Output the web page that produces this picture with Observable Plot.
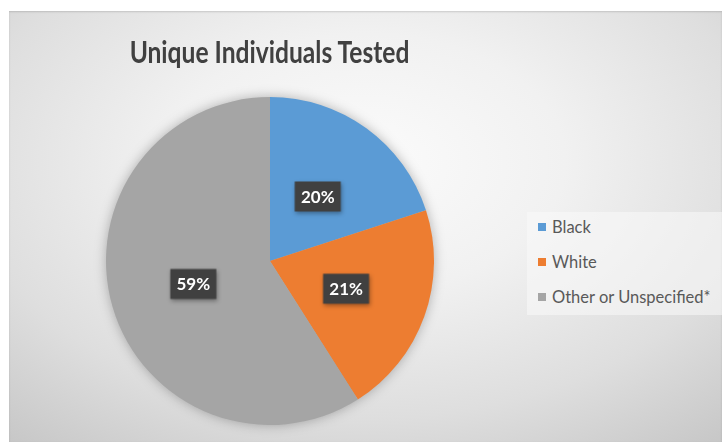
<!DOCTYPE html>
<html>
<head>
<meta charset="utf-8">
<script src="https://cdn.jsdelivr.net/npm/d3@7"></script>
<script src="https://cdn.jsdelivr.net/npm/@observablehq/plot@0.6"></script>
<style>
  html, body { margin: 0; padding: 0; background: #ffffff; }
  #wrap { position: relative; width: 722px; height: 442px; overflow: hidden; background: #ffffff; }
  #panel {
    position: absolute; left: 9px; top: 11px; width: 713px; height: 431px;
    background: radial-gradient(ellipse 80% 85% at 50% 35%, #fbfbfb 0%, #f1f1f1 35%, #dedede 70%, #c6c6c6 100%);
    box-shadow: inset 0 1px 2px rgba(0,0,0,0.15);
  }
  #title {
    position: absolute; left: 0; top: 22px; width: 521px; text-align: center;
    font-family: Lato, "Open Sans", sans-serif; font-weight: bold; font-size: 30px;
    line-height: 36px; color: #404040; white-space: nowrap;
    transform: scaleX(0.82); transform-origin: 50% 50%;
  }
  #chart { position: absolute; left: 0; top: 0; }
  #chart svg { background: transparent !important; overflow: visible; }
  #chart g[aria-label="dot"] { filter: drop-shadow(1px 2px 2px rgba(0,0,0,0.35)); }
  #pie { filter: drop-shadow(0px 0px 6px rgba(0,0,0,0.28)); }
  #legend {
    position: absolute; left: 518px; top: 201px; width: 195px; height: 103px;
    background: rgba(250,250,250,0.55); box-sizing: border-box;
    font-family: Lato, "Open Sans", sans-serif; font-size: 16.5px; color: #595959;
  }
  .items { margin-top: -3px; }
  .item { height: 35px; display: flex; align-items: center; padding-left: 11px; }
  .sw { width: 8px; height: 8px; margin-right: 6px; }
</style>
</head>
<body>
<div id="wrap">
  <div id="panel">
    <div id="title">Unique Individuals Tested</div>
    <div id="chart"></div>
    <div id="legend"><div class="items"></div></div>
  </div>
</div>
<script>
const categories = ["Black", "White", "Other or Unspecified*"];
const shares = [20, 21, 59];
const labels = ["20%", "21%", "59%"];
const colors = ["#5B9BD5", "#ED7D31", "#A5A5A5"];

const data = categories.map((c, i) => ({category: c, value: shares[i], label: labels[i]}));
const arcs = d3.pie().value(d => d.value).sort(null)(data);
const labelRadius = 0.49;
const slices = arcs.map(a => {
  const m = (a.startAngle + a.endAngle) / 2;
  return {...a, category: a.data.category, label: a.data.label,
          lx: labelRadius * Math.sin(m), ly: labelRadius * Math.cos(m)};
});

const color = Plot.scale({color: {domain: categories, range: colors}});

const rectSymbol = {
  draw(context) { context.rect(-23, -15, 46, 30); }
};

function pieMark(index, scales) {
  const cx = scales.x(0), cy = scales.y(0), r = scales.x(1) - scales.x(0);
  const g = d3.create("svg:g").attr("id", "pie");
  const arc = d3.arc().innerRadius(0).outerRadius(r);
  g.selectAll("path").data(slices).join("path")
    .attr("transform", `translate(${cx},${cy})`)
    .attr("d", arc)
    .attr("fill", d => color.apply(d.category));
  return g.node();
}

const plot = Plot.plot({
  width: 713,
  height: 431,
  margin: 0,
  x: {domain: [-1, 1], range: [97, 425], axis: null},
  y: {domain: [-1, 1], range: [414, 86], axis: null},
  marks: [
    pieMark,
    Plot.dot(slices, {x: "lx", y: "ly", symbol: rectSymbol, fill: "#404040", stroke: "none"}),
    Plot.text(slices, {x: "lx", y: "ly", text: "label", fill: "#ffffff", fontSize: 17,
                       fontWeight: "bold", fontFamily: "Lato, 'Open Sans', sans-serif", dy: 1})
  ]
});
document.getElementById("chart").appendChild(plot);

const legend = d3.select("#legend .items");
const items = legend.selectAll(".item").data(categories).join("div").attr("class", "item");
items.append("div").attr("class", "sw").style("background", d => color.apply(d));
items.append("span").text(d => d);
</script>
</body>
</html>
